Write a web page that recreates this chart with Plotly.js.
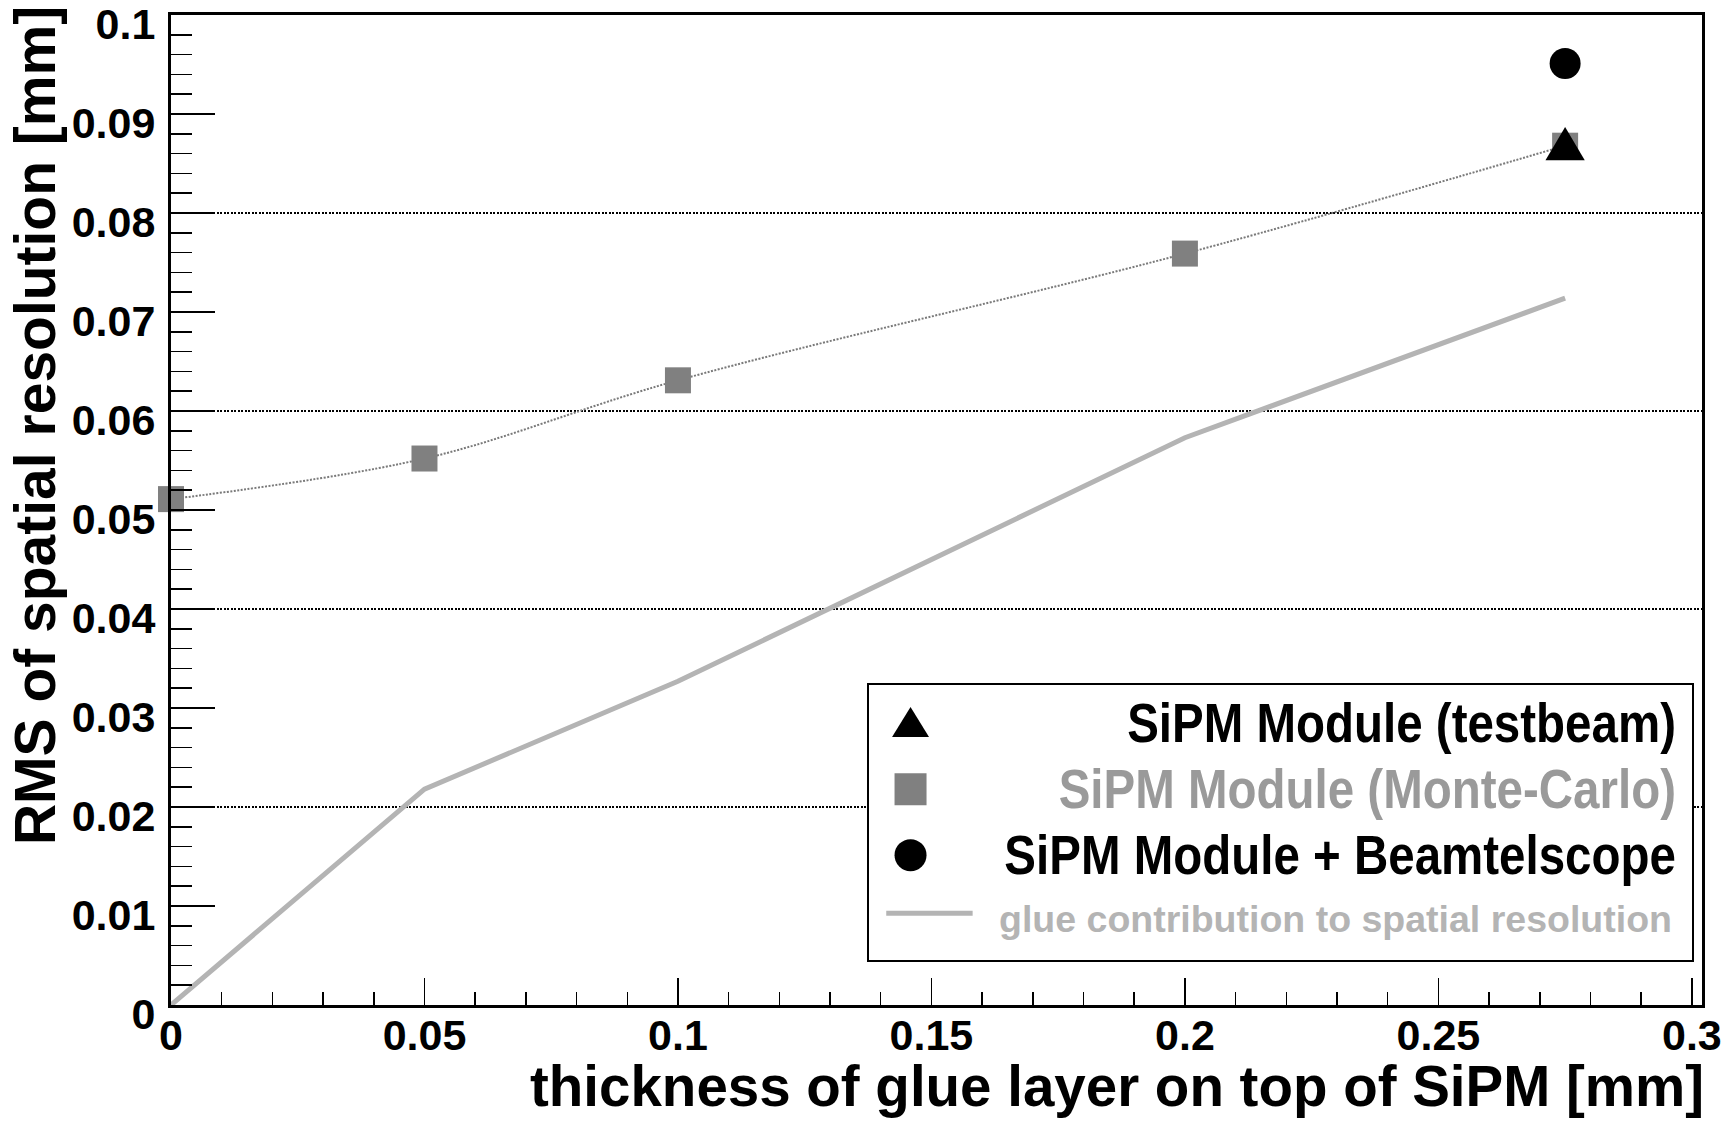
<!DOCTYPE html>
<html>
<head>
<meta charset="utf-8">
<script src="https://cdn.plot.ly/plotly-3.0.1.min.js"></script>
<style>
  html, body { margin: 0; padding: 0; background: #fff; }
  #plot { width: 1728px; height: 1129px; }
</style>
</head>
<body>
<div id="plot"></div>
<script>
document.addEventListener("DOMContentLoaded", function(event) {

  // glue layer thickness [mm]
  const thicknessMC = [0, 0.05, 0.1, 0.2, 0.275];
  const rmsMC = [0.0511, 0.0552, 0.0631, 0.0759, 0.0868];

  const thicknessGlue = [0, 0.05, 0.1, 0.2, 0.275];
  const rmsGlue = [0, 0.0218, 0.0327, 0.0573, 0.0714];

  const thicknessBeam = [0.275];
  const rmsTestbeam = [0.0870];
  const rmsBeamtelescope = [0.0951];

  const xTicks = [0, 0.05, 0.1, 0.15, 0.2, 0.25, 0.3];
  const yTicks = [0, 0.01, 0.02, 0.03, 0.04, 0.05, 0.06, 0.07, 0.08, 0.09, 0.1];

  const FONT = 'Liberation Sans, Arial, sans-serif';

  // glue trace sits on the overlay axis that carries the dotted grid
  const glue = {
    x: thicknessGlue,
    y: rmsGlue,
    yaxis: 'y2',
    mode: 'lines',
    type: 'scatter',
    name: '<span style="color:#b4b4b4;font-size:37.5px">glue contribution to spatial resolution</span>',
    line: { color: '#b4b4b4', width: 5 },
    legendrank: 4
  };

  const monteCarloCurve = {
    x: thicknessMC,
    y: rmsMC,
    mode: 'lines',
    type: 'scatter',
    showlegend: false,
    line: { color: '#7a7a7a', width: 2, dash: '2px,1.5px', shape: 'spline', smoothing: 1 }
  };

  const monteCarlo = {
    x: thicknessMC,
    y: rmsMC,
    mode: 'markers',
    type: 'scatter',
    cliponaxis: false,
    name: '<span style="color:#9a9a9a;font-size:47.5px">SiPM Module (Monte-Carlo)</span>',
    marker: { symbol: 'square', size: 26, color: '#808080' },
    legendrank: 2
  };

  const testbeam = {
    x: thicknessBeam,
    y: rmsTestbeam,
    uid: 'testbeam',
    mode: 'markers',
    type: 'scatter',
    cliponaxis: false,
    name: '<span style="font-size:47.5px">SiPM Module (testbeam)</span>',
    marker: { symbol: 'triangle-up', size: 34, color: '#000000' },
    legendrank: 1
  };

  const beamtelescope = {
    x: thicknessBeam,
    y: rmsBeamtelescope,
    mode: 'markers',
    type: 'scatter',
    cliponaxis: false,
    name: '<span style="font-size:47.5px">SiPM Module + Beamtelscope</span>',
    marker: { symbol: 'circle', size: 31, color: '#000000' },
    legendrank: 3
  };

  const data = [glue, monteCarloCurve, monteCarlo, testbeam, beamtelescope];

  const layout = {
    width: 1728,
    height: 1129,
    margin: { l: 171, r: 26, t: 15, b: 124 },
    paper_bgcolor: '#ffffff',
    plot_bgcolor: '#ffffff',
    showlegend: true,
    xaxis: {
      range: [0, 0.302],
      tickvals: xTicks,
      ticktext: xTicks.map(String),
      ticks: 'inside',
      ticklen: 27,
      tickwidth: 1.5,
      tickcolor: '#000',
      minor: { dtick: 0.01, tick0: 0, ticks: 'inside', ticklen: 13, tickwidth: 1.5, tickcolor: '#000' },
      showline: true,
      linewidth: 3,
      linecolor: '#000',
      mirror: true,
      showgrid: false,
      zeroline: false,
      ticklabelstandoff: -10,
      ticklabeloverflow: 'allow',
      tickfont: { family: FONT, size: 43, color: '#000', weight: 700 }
    },
    yaxis: {
      range: [0, 0.1],
      tickvals: yTicks,
      ticktext: yTicks.map(String),
      ticks: 'inside',
      ticklen: 44,
      tickwidth: 1.5,
      tickcolor: '#000',
      minor: { dtick: 0.002, tick0: 0, ticks: 'inside', ticklen: 21, tickwidth: 1.5, tickcolor: '#000' },
      showline: true,
      linewidth: 3,
      linecolor: '#000',
      mirror: true,
      showgrid: false,
      zeroline: false,
      ticklabelstandoff: 4,
      ticklabelshift: 9,
      ticklabeloverflow: 'allow',
      tickfont: { family: FONT, size: 43, color: '#000', weight: 700 }
    },
    // dotted grid only every second major tick
    yaxis2: {
      overlaying: 'y',
      range: [0, 0.1],
      dtick: 0.02,
      tick0: 0,
      showgrid: true,
      gridcolor: '#000',
      gridwidth: 1.5,
      griddash: '2px,1.5px',
      showticklabels: false,
      ticks: '',
      zeroline: false,
      showline: false
    },
    legend: {
      x: 0.9948,
      y: 0.3252,
      xanchor: 'right',
      yanchor: 'top',
      bgcolor: '#ffffff',
      bordercolor: '#000000',
      borderwidth: 2,
      itemwidth: 135,
      traceorder: 'normal',
      font: { family: FONT, size: 48.5, color: '#000', weight: 700 }
    },
    annotations: [
      {
        text: 'thickness of glue layer on top of SiPM [mm]',
        xref: 'paper', yref: 'paper',
        x: 1.0026, y: -0.0827,
        xanchor: 'right', yanchor: 'middle',
        showarrow: false,
        font: { family: FONT, size: 56.5, color: '#000', weight: 700 }
      },
      {
        text: 'RMS of spatial resolution [mm]',
        xref: 'paper', yref: 'paper',
        x: -0.0887, y: 0.585,
        xanchor: 'center', yanchor: 'middle',
        textangle: -90,
        showarrow: false,
        font: { family: FONT, size: 57, color: '#000', weight: 700 }
      }
    ]
  };

  Plotly.newPlot('plot', data, layout, { staticPlot: true }).then(function() {
    // ROOT draws its up-triangle about as tall as wide
    document.querySelectorAll('.tracetestbeam path.point').forEach(function(p) {
      p.setAttribute('transform', (p.getAttribute('transform') || '') + ' translate(0,5.5) scale(1,1.3)');
    });

    // bigger legend symbols, placed near the left border like the ROOT legend
    document.querySelectorAll('.legend .traces').forEach(function(item, i) {
      item.querySelectorAll('.legendpoints path.scatterpts').forEach(function(p) {
        const grow = i === 0 ? ' translate(-31,4) scale(2,2.5)' : ' translate(-31,0) scale(2)';
        p.setAttribute('transform', (p.getAttribute('transform') || '') + grow);
      });
      item.querySelectorAll('.legendlines path').forEach(function(p) {
        p.setAttribute('transform', 'translate(14,-8) scale(0.64,1)');
      });
    });

    // right aligned legend texts, the big ones a bit taller (narrow font look)
    const texts = document.querySelectorAll('.legend .legendtext');
    let maxW = 0;
    texts.forEach(function(t) { maxW = Math.max(maxW, t.getComputedTextLength()); });
    texts.forEach(function(t) {
      const x0 = parseFloat(t.getAttribute('x')) || 0;
      const y0 = parseFloat(t.getAttribute('y')) || 0;
      t.setAttribute('text-anchor', 'end');
      t.style.textAnchor = 'end';
      if (t.textContent.indexOf('glue') < 0) {
        t.setAttribute('x', x0 + maxW - 11);
        t.setAttribute('transform', 'translate(0,' + y0 + ') scale(1,1.18) translate(0,' + (-y0) + ')');
      } else {
        t.setAttribute('x', x0 + maxW - 15);
        t.setAttribute('transform', 'translate(0,-8)');
      }
    });
  });
});
</script>
</body>
</html>
